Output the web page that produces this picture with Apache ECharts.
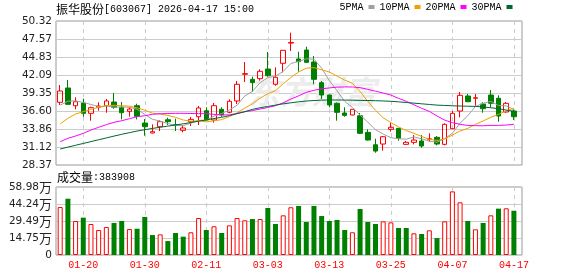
<!DOCTYPE html>
<html><head><meta charset="utf-8">
<script src="https://cdn.jsdelivr.net/npm/echarts@6/dist/echarts.min.js"></script>
<style>html,body{margin:0;padding:0;background:#fff}#c{width:578px;height:276px}</style>
</head><body><div id="c"></div>
<script>
const dates = ['01-15','01-16','01-19','01-20','01-21','01-22','01-23','01-26','01-27','01-28','01-29','01-30',
'02-02','02-03','02-04','02-05','02-06','02-09','02-10','02-11','02-12','02-13','02-24','02-25','02-26','02-27',
'03-02','03-03','03-04','03-05','03-06','03-09','03-10','03-11','03-12','03-13','03-16','03-17','03-18','03-19','03-20',
'03-23','03-24','03-25','03-26','03-27','03-30','03-31','04-01','04-02','04-03','04-07','04-08','04-09','04-10',
'04-13','04-14','04-15','04-16','04-17'];

const opens  = [37.93,40.11,37.41,37.82,36.25,37.16,37.41,37.97,37.16,36.55,37.41,34.77,33.25,34.21,35.27,34.52,33.66,34.97,35.73,36.65,
35.23,36.86,36.40,38.13,42.20,41.43,41.53,43.00,40.67,43.87,46.95,44.53,45.90,44.07,40.92,39.04,37.77,36.30,36.00,35.88,
33.35,31.46,31.57,33.81,33.96,31.52,31.83,32.03,32.30,32.59,31.52,33.90,36.60,38.89,38.55,37.67,39.04,38.54,36.45,36.60];
const closes = [39.65,37.62,38.02,36.25,37.11,37.36,38.13,37.16,36.34,36.90,35.79,34.21,33.45,34.97,34.97,34.45,34.01,35.33,37.06,35.23,
37.41,36.00,38.08,40.67,42.30,40.92,42.65,41.98,41.74,45.85,47.05,44.12,44.02,41.43,39.04,37.52,36.40,35.94,36.86,33.20,
32.18,30.50,32.68,34.12,32.44,31.83,32.18,31.27,32.35,31.57,34.57,36.25,38.99,38.02,38.62,36.95,37.77,35.84,37.77,35.73];
const lows   = [37.52,37.55,36.86,35.73,35.12,36.65,36.34,36.95,35.33,35.73,35.33,32.84,33.20,33.55,34.47,33.55,33.35,34.31,34.47,35.20,
34.82,35.73,36.25,37.67,41.02,39.54,41.22,41.83,40.46,42.50,45.75,42.59,43.95,40.67,38.43,37.16,35.12,35.73,35.95,33.10,
32.10,30.24,30.55,33.45,32.07,31.45,31.52,31.00,31.92,31.37,31.37,33.85,35.64,37.95,37.41,36.34,37.16,34.97,36.34,35.23];
const highs  = [40.56,41.33,38.69,38.48,37.26,37.93,38.43,39.34,37.97,37.16,37.71,35.38,34.57,35.18,35.58,35.43,34.42,35.69,37.36,37.16,
37.82,37.16,38.38,41.17,44.07,41.83,42.96,45.60,43.26,45.90,48.54,45.64,46.40,44.99,41.17,39.10,37.90,37.16,36.90,36.30,
33.81,32.38,32.80,34.82,34.00,32.03,32.94,32.94,33.20,32.79,34.72,36.60,39.50,39.20,39.20,37.93,39.80,38.99,37.97,36.95];

const volumes = [416000,488000,295000,324000,269000,217000,243000,278000,295000,225000,228000,330000,173000,179000,121000,191000,159000,197000,321000,217000,
249000,191000,257000,321000,301000,312000,312000,408000,269000,344000,414000,425000,286000,425000,338000,295000,304000,217000,197000,399000,
286000,269000,292000,283000,234000,234000,188000,182000,214000,147000,292000,552000,457000,295000,223000,278000,344000,402000,405000,383908];
const volUp = [1,0,1,0,1,1,1,0,0,1,0,0,0,1,0,0,0,1,1,0,1,0,1,1,1,0,1,0,0,1,1,0,0,0,0,0,0,0,1,0,0,0,1,1,0,0,1,0,1,0,1,1,1,0,1,0,1,0,1,0];

const ma5 = [37.50,38.10,38.15,37.90,37.60,37.27,37.37,37.20,37.22,37.18,36.86,36.08,35.34,35.06,34.68,34.41,34.37,34.75,35.16,35.22,
35.81,36.21,36.76,37.48,38.89,39.59,40.92,41.70,41.92,42.63,43.85,44.15,44.56,44.49,43.13,41.23,39.68,38.07,37.15,35.98,
34.92,33.74,33.08,32.54,32.38,32.31,32.65,32.37,32.01,31.84,32.39,33.20,34.75,35.88,37.29,37.77,38.07,37.44,37.39,36.81];
const ma10 = [34.62,35.49,36.14,36.50,36.86,37.16,37.41,37.47,37.40,37.35,37.07,36.73,36.27,36.14,35.93,35.64,35.23,35.04,35.11,34.95,
35.11,35.29,35.75,36.32,37.05,37.70,38.57,39.23,39.70,40.76,41.72,42.54,43.13,43.21,42.88,42.54,41.92,41.31,40.82,39.56,
38.07,36.71,35.58,34.84,34.18,33.62,33.19,32.73,32.28,32.11,32.35,32.93,33.56,33.95,34.57,35.08,35.64,36.09,36.64,37.05];
const ma20 = [31.93,32.44,32.79,33.20,33.70,34.12,34.52,34.88,35.12,35.43,35.73,35.88,36.10,36.19,36.22,36.25,36.25,36.22,36.20,36.20,
36.09,36.01,36.01,36.23,36.49,36.67,36.90,37.14,37.41,37.85,38.42,38.91,39.44,39.76,39.97,40.12,40.24,40.27,40.26,40.16,
39.90,39.62,39.35,39.03,38.53,38.08,37.55,37.02,36.55,35.84,35.21,34.82,34.57,34.40,34.37,34.35,34.41,34.41,34.46,34.58];
const ma30 = [30.81,31.10,31.38,31.66,31.94,32.22,32.50,32.78,33.05,33.30,33.55,33.75,33.95,34.13,34.30,34.47,34.65,34.85,35.05,35.25,
35.45,35.65,35.90,36.20,36.50,36.85,37.10,37.30,37.50,37.70,37.85,38.00,38.12,38.20,38.26,38.28,38.28,38.27,38.25,38.22,
38.20,38.17,38.13,38.08,38.00,37.90,37.80,37.70,37.60,37.50,37.45,37.40,37.36,37.33,37.30,37.22,37.10,36.95,36.75,36.55];

const RED = '#ff0000', GREEN = '#008000';
const labelIdx = (i) => (i - 3) % 8 === 0;

const chart = echarts.init(document.getElementById('c'), null, {renderer: 'canvas'});
const candleData = dates.map((d, i) => [opens[i], closes[i], lows[i], highs[i]]);
const volData = volumes.map((v, i) => ({
  value: v,
  itemStyle: volUp[i] ? {color: '#ffffff', borderColor: RED, borderWidth: 1} : {color: GREEN, borderColor: GREEN, borderWidth: 0}
}));
function maSeries(name, data, color) {
  return {name, type: 'line', xAxisIndex: 1, yAxisIndex: 1, data, showSymbol: false, symbol: 'none',
    lineStyle: {width: 1, color}, itemStyle: {color}, z: 3, silent: true};
}
const PMIN = 28.3744, PMAX = 50.3168, PINT = 2.7428;
const VMAX = 589820, VINT = 147455;

chart.setOption({
  animation: false,
  backgroundColor: '#fff',
  legend: {
    data: ['5PMA', '10PMA', '20PMA', '30PMA'], left: 339.5, top: 2, align: 'right', icon: 'rect',
    itemWidth: 6, itemHeight: 4, itemGap: 5, selectedMode: false, padding: 0,
    textStyle: {fontFamily: 'Liberation Mono', fontSize: 10, color: '#000'}
  },
  graphic: [
    {type: 'text', x: 56, y: 9, z: 10, silent: true, style: {
      text: '{a|振华股份}{b|[603067] 2026-04-17 15:00}', verticalAlign: 'middle',
      rich: {a: {fontFamily: 'Noto Sans CJK SC', fontSize: 12, fill: '#000'}, b: {fontFamily: 'Liberation Mono', fontSize: 10, fill: '#000'}}}},
    {type: 'text', x: 57, y: 177.5, z: 10, silent: true, style: {
      text: '{a|成交量}{b|:383908}', verticalAlign: 'middle',
      rich: {a: {fontFamily: 'Noto Sans CJK SC', fontSize: 12, fill: '#000'}, b: {fontFamily: 'Liberation Mono', fontSize: 10, fill: '#000'}}}},
    {type: 'text', x: 248, y: 76, z: 1, silent: true, style: {
      text: '东方财富', font: 'italic bold 32px "Noto Sans CJK SC"', fill: '#ececec'}}
  ],
  grid: [
    {left: 56, top: 21, width: 466, height: 144, show: true, borderColor: '#999', borderWidth: 1, backgroundColor: 'transparent'},
    {left: 60.2, top: 21, width: 453.7, height: 144},
    {left: 56, top: 187, width: 466, height: 68, show: true, borderColor: '#999', borderWidth: 1, backgroundColor: 'transparent'},
    {left: 60.2, top: 187, width: 453.7, height: 68}
  ],
  xAxis: [
    {gridIndex: 0, type: 'value', min: 0, max: 1, show: false},
    {gridIndex: 1, type: 'category', data: dates, boundaryGap: false,
      axisLine: {show: false}, axisTick: {show: false}, axisLabel: {show: false},
      splitLine: {show: true, interval: labelIdx, lineStyle: {color: '#cccccc', type: [4, 4], width: 1}}},
    {gridIndex: 2, type: 'value', min: 0, max: 1, show: false},
    {gridIndex: 3, type: 'category', data: dates, boundaryGap: false,
      axisLine: {show: false}, axisTick: {show: false},
      axisLabel: {show: true, interval: labelIdx, color: RED, fontFamily: 'Liberation Mono', fontSize: 10, margin: 5},
      splitLine: {show: true, interval: labelIdx, lineStyle: {color: '#cccccc', type: [4, 4], width: 1}}}
  ],
  yAxis: [
    {gridIndex: 0, type: 'value', min: PMIN, max: PMAX, interval: PINT,
      axisLine: {show: false}, axisTick: {show: false},
      axisLabel: {formatter: v => v.toFixed(2), fontFamily: 'DejaVu Sans', fontSize: 10.5, color: '#222', margin: 4},
      splitLine: {show: true, lineStyle: {color: '#cccccc', width: 1}}},
    {gridIndex: 1, type: 'value', min: PMIN, max: PMAX, show: false},
    {gridIndex: 2, type: 'value', min: 0, max: VMAX, interval: VINT,
      axisLine: {show: false}, axisTick: {show: false},
      axisLabel: {formatter: v => v === 0 ? '{n|0}' : '{n|' + (v / 10000).toFixed(2) + '}{w|万}', margin: 4,
        fontFamily: 'DejaVu Sans', fontSize: 10.5, color: '#222',
        rich: {n: {fontFamily: 'DejaVu Sans', fontSize: 10.5, color: '#222'}, w: {fontFamily: 'Noto Sans CJK SC', fontSize: 13, color: '#222'}}},
      splitLine: {show: true, lineStyle: {color: '#cccccc', width: 1}}},
    {gridIndex: 3, type: 'value', min: 0, max: VMAX, show: false}
  ],
  series: [
    {name: 'K', type: 'candlestick', xAxisIndex: 1, yAxisIndex: 1, data: candleData, barWidth: 5, clip: false, silent: true, z: 2,
      itemStyle: {color: 'rgba(255,255,255,0)', color0: GREEN, borderColor: RED, borderColor0: GREEN, borderWidth: 1}},
    maSeries('5PMA', ma5, '#a0a0a0'),
    maSeries('10PMA', ma10, '#f0a000'),
    maSeries('20PMA', ma20, '#ff00ff'),
    maSeries('30PMA', ma30, '#006633'),
    {name: 'VOL', type: 'bar', xAxisIndex: 3, yAxisIndex: 3, data: volData, barWidth: 5, clip: false, silent: true}
  ]
});
</script></body></html>
